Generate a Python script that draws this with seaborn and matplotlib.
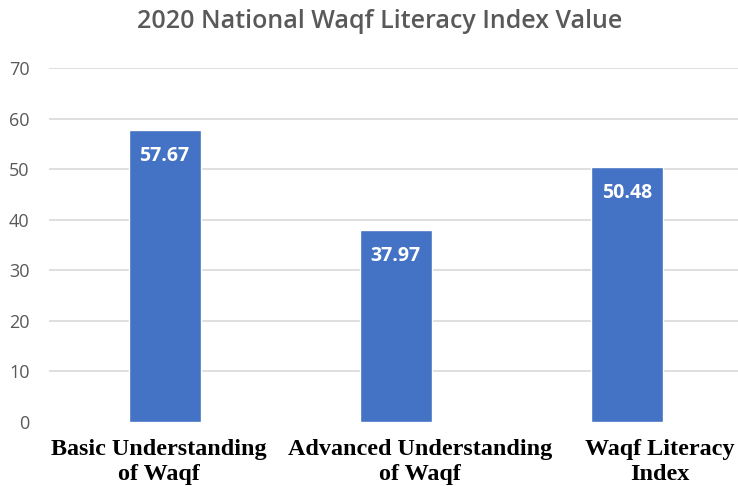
import matplotlib
matplotlib.use("Agg")
import matplotlib.pyplot as plt
import matplotlib.transforms as mtransforms
import seaborn as sns
import pandas as pd

# Données
categories = ["Basic Understanding\nof Waqf", "Advanced Understanding\nof Waqf", "Waqf Literacy\nIndex"]
valeurs = [57.67, 37.97, 50.48]
y_ticks = [0, 10, 20, 30, 40, 50, 60, 70]
titre = "2020 National Waqf Literacy Index Value"

df = pd.DataFrame({"Categorie": categories, "Valeur": valeurs})

sns.set_style("white")
plt.rcParams["font.family"] = ["Open Sans", "DejaVu Sans"]

fig = plt.figure(figsize=(7.38, 4.86), dpi=100)
ax = fig.add_axes([49 / 738, 1 - 422 / 486, 689 / 738, (422 - 68) / 486])

sns.barplot(data=df, x="Categorie", y="Valeur", color="#4472C4", saturation=1,
            width=0.312, ax=ax, zorder=3)

ax.set_ylim(0, 70)
ax.set_xlim(-0.5, 2.48)
ax.set_yticks(y_ticks)
ax.yaxis.grid(True, color="#D9D9D9", linewidth=1.2, zorder=0)
ax.get_ygridlines()[0].set_visible(False)
ax.set_axisbelow(True)
for s in ax.spines.values():
    s.set_visible(False)

ax.set_xlabel("")
ax.set_ylabel("")
ax.tick_params(axis="y", length=0, pad=14, labelsize=13, labelcolor="#595959")
ax.tick_params(axis="x", length=0, pad=12.5)

# les étiquettes de l'original ne sont pas tout à fait centrées sous les barres
decalages = [-6, 24, 33]
for lab, dx in zip(ax.get_xticklabels(), decalages):
    lab.set_fontfamily("Liberation Serif")
    lab.set_fontweight("bold")
    lab.set_fontsize(17.4)
    lab.set_color("black")
    lab.set_linespacing(1.22)
    lab.set_transform(lab.get_transform() + mtransforms.ScaledTranslation(dx / 100, 0, fig.dpi_scale_trans))

ax.bar_label(ax.containers[0], fmt="%.2f", padding=-26, color="white",
             fontweight="bold", fontsize=14)

fig.text(380 / 738, 1 - 22 / 486, titre, ha="center", va="center",
         fontsize=18, fontweight="semibold", color="#595959")

plt.savefig("out.png", dpi=100)
